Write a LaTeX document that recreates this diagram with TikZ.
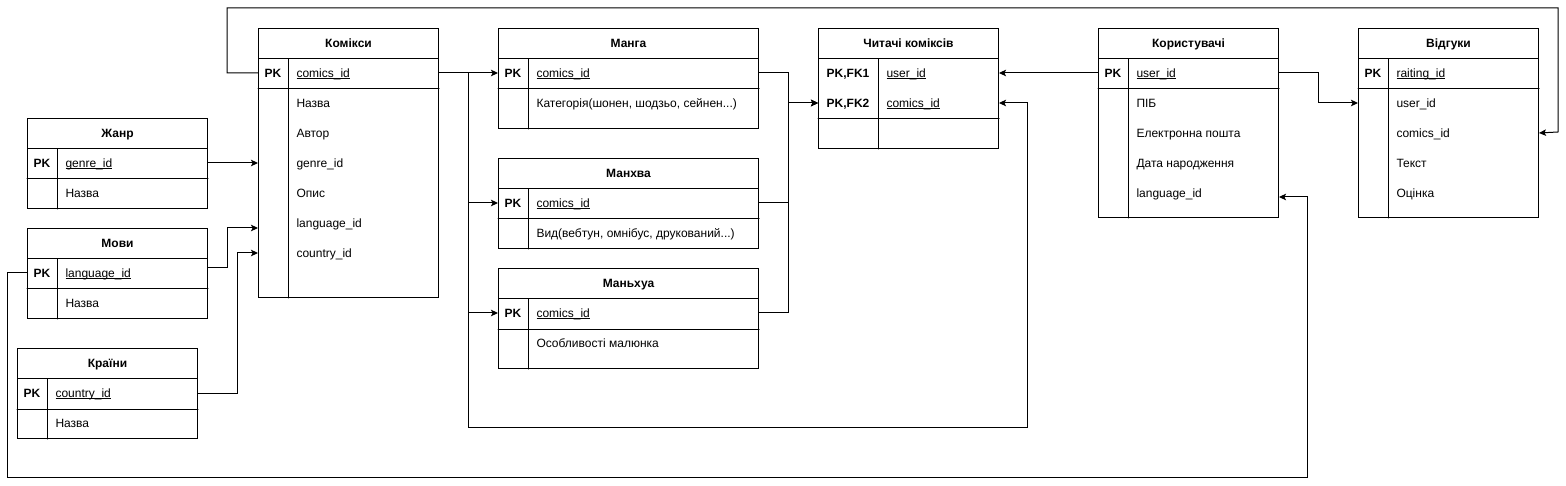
\documentclass[tikz,border=0pt]{standalone}
\usepackage{fontspec}
\setmainfont{Liberation Sans}
\usetikzlibrary{arrows.meta}

% underline for key fields
\newcommand{\keyline}[1]{\setbox0\hbox{#1}\rlap{\rule[-1.6pt]{\wd0}{0.7pt}}\box0}

% table: name, x, y, width, height, key width, key rows, title
\newcommand{\ertable}[8]{%
  \node[tbl, minimum width=#4pt, minimum height=#5pt] (#1) at (#2,#3) {};
  \node[tblhead, minimum width=#4pt] (#1-head) at (#2,#3) {#8};
  \draw ([xshift=#6pt]#1-head.south west) -- ([xshift=#6pt]#1.south west);
  \draw ([yshift=-#7*30pt]#1-head.south west) -- ([yshift=-#7*30pt]#1-head.south east);
}

\begin{document}
\begin{tikzpicture}[x=1pt, y=-1pt, line cap=round, line width=1pt,
    font=\fontsize{12pt}{14pt}\selectfont,
    tbl/.style={draw, anchor=north west, inner sep=0pt},
    tblhead/.style={draw, anchor=north west, inner sep=0pt, minimum height=30pt,
      font=\fontsize{12pt}{14pt}\selectfont\bfseries, text height=8.6pt, text depth=0pt},
    keytxt/.style={inner sep=0pt, text height=8.6pt, text depth=0pt,
      font=\fontsize{12pt}{14pt}\selectfont\bfseries},
    fieldtxt/.style={anchor=west, inner sep=0pt, text height=8.6pt, text depth=0pt},
    fk/.style={-{Stealth[length=7pt,width=6.5pt,inset=1.5pt]}}]
\useasboundingbox (0,0) rectangle (1566,486);

% Комікси
\ertable{kom}{258}{28}{180}{269}{30}{1}{Комікси}
\node[keytxt] (kom-k) at (273,73) {PK};
\node[fieldtxt] (kom-id) at (296,73) {\keyline{comics\_id}};
\foreach \f [count=\i] in {Назва, Автор, genre\_id, Опис, language\_id, country\_id}
  \node[fieldtxt] (kom-f\i) at (296,73+30*\i) {\f};

% Жанр
\ertable{zh}{27}{118}{180}{90}{30}{1}{Жанр}
\node[keytxt] (zh-k) at (42,163) {PK};
\node[fieldtxt] (zh-id) at (65,163) {\keyline{genre\_id}};
\node[fieldtxt] (zh-f1) at (65,193) {Назва};

% Мови
\ertable{mov}{27}{228}{180}{90}{30}{1}{Мови}
\node[keytxt] (mov-k) at (42,273) {PK};
\node[fieldtxt] (mov-id) at (65,273) {\keyline{language\_id}};
\node[fieldtxt] (mov-f1) at (65,303) {Назва};

% Країни
\ertable{kr}{17}{348}{180}{90}{30}{1}{Країни}
\node[keytxt] (kr-k) at (32,393) {PK};
\node[fieldtxt] (kr-id) at (55,393) {\keyline{country\_id}};
\node[fieldtxt] (kr-f1) at (55,423) {Назва};

% Манга, Манхва, Маньхуа
\ertable{man}{498}{28}{260}{100}{30}{1}{Манга}
\node[keytxt] (man-k) at (513,73) {PK};
\node[fieldtxt] (man-id) at (536,73) {\keyline{comics\_id}};
\node[fieldtxt] (man-f1) at (536,103) {Категорія(шонен, шодзьо, сейнен...)};

\ertable{mnh}{498}{158}{260}{90}{30}{1}{Манхва}
\node[keytxt] (mnh-k) at (513,203) {PK};
\node[fieldtxt] (mnh-id) at (536,203) {\keyline{comics\_id}};
\node[fieldtxt] (mnh-f1) at (536,233) {Вид(вебтун, омнібус, друкований...)};

\ertable{mnu}{498}{268}{260}{100}{30}{1}{Маньхуа}
\node[keytxt] (mnu-k) at (513,313) {PK};
\node[fieldtxt] (mnu-id) at (536,313) {\keyline{comics\_id}};
\node[fieldtxt] (mnu-f1) at (536,343) {Особливості малюнка};

% Читачі коміксів
\ertable{chit}{818}{28}{180}{120}{60}{2}{Читачі коміксів}
\node[keytxt] (chit-k1) at (848,73) {PK,FK1};
\node[fieldtxt] (chit-id1) at (886,73) {\keyline{user\_id}};
\node[keytxt] (chit-k2) at (848,103) {PK,FK2};
\node[fieldtxt] (chit-id2) at (886,103) {\keyline{comics\_id}};

% Користувачі
\ertable{kor}{1098}{28}{180}{189}{30}{1}{Користувачі}
\node[keytxt] (kor-k) at (1113,73) {PK};
\node[fieldtxt] (kor-id) at (1136,73) {\keyline{user\_id}};
\foreach \f [count=\i] in {ПІБ, Електронна пошта, Дата народження, language\_id}
  \node[fieldtxt] (kor-f\i) at (1136,73+30*\i) {\f};

% Відгуки
\ertable{vid}{1358}{28}{180}{189}{30}{1}{Відгуки}
\node[keytxt] (vid-k) at (1373,73) {PK};
\node[fieldtxt] (vid-id) at (1396,73) {\keyline{raiting\_id}};
\foreach \f [count=\i] in {user\_id, comics\_id, Текст, Оцінка}
  \node[fieldtxt] (vid-f\i) at (1396,73+30*\i) {\f};

% connectors
\coordinate (split) at (468,73);
\draw[fk] (kom.west |- kom-id) -| (227,8) -| (1558,132) -- (vid.east |- vid-f2);
\draw[fk] (zh.east |- zh-id) -- (kom.west |- zh-id);
\draw[fk] (mov.east |- 0,268) -| (227,228) -- (kom.west |- 0,228);
\draw[fk] (kr.east |- kr-id) -| (237,253) -- (kom.west |- kom-f6);
\draw[fk] (mov.west |- mov-id) -| (7,477) -| (1307,197) -- (kor.east |- 0,197);

\draw[fk] (kom.east |- kom-id) -- (man.west |- man-id);
\draw[fk] (split) |- (mnh.west |- mnh-id);
\draw[fk] (split) |- (mnu.west |- mnu-id);
\draw[fk] (split) |- (1027,427) |- (chit.east |- chit-id2);

\draw[fk] (man.east |- man-id) -| (788,103) -- (chit.west |- chit-id2);
\draw[fk] (mnh.east |- mnh-id) -| (788,103) -- (chit.west |- chit-id2);
\draw[fk] (mnu.east |- mnu-id) -| (788,103) -- (chit.west |- chit-id2);

\draw[fk] (kor.west |- kor-id) -- (chit.east |- chit-id1);
\draw[fk] (kor.east |- kor-id) -| (1318,103) -- (vid.west |- vid-f1);
\end{tikzpicture}
\end{document}
